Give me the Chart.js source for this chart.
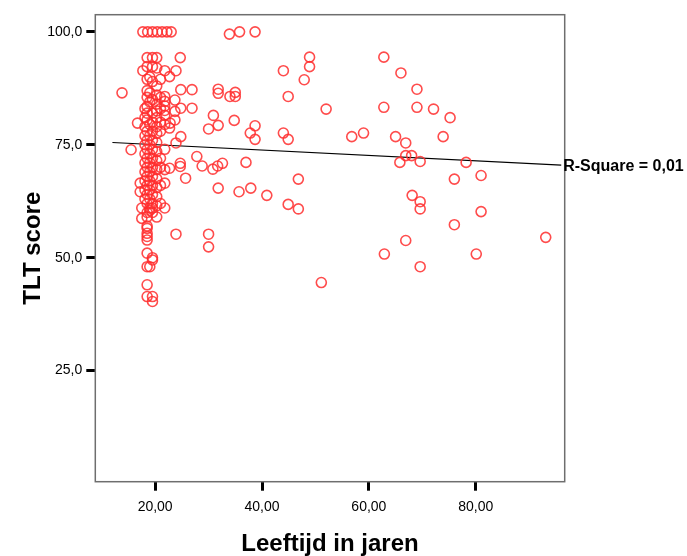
<!DOCTYPE html>
<html>
<head>
<meta charset="utf-8">
<script src="https://cdn.jsdelivr.net/npm/chart.js@4.4.1/dist/chart.umd.min.js"></script>
<style>
  body { margin: 0; background: #fff; }
</style>
</head>
<body>
<canvas id="chart" width="687" height="556"></canvas>
<script>
// leeftijd (jaren) en TLT score per respondent
const ages = [
  17.7, 18.6, 19.5, 20.4, 21.3, 22.2, 23.0, 33.9, 35.8, 38.7,
  13.8, 15.5, 16.7, 17.2, 17.2, 17.5, 17.5, 17.7,
  18.1, 18.1, 18.1, 18.1, 18.1, 18.1, 18.1, 18.1, 18.1, 18.1, 18.1,
  18.5, 18.5, 18.5, 18.5, 18.5, 18.5, 18.5, 18.5, 18.5, 18.5, 18.5, 18.5, 18.5, 18.5,
  18.5, 18.5, 18.5, 18.5, 18.5, 18.5, 18.5, 18.5, 18.5, 18.5, 18.5, 18.5, 18.5, 18.5,
  19.0, 19.0, 19.0, 19.0, 19.0, 19.0, 19.0, 19.0, 19.0, 19.0, 19.0, 19.0, 19.0, 19.0, 19.0,
  19.5, 19.5, 19.5, 19.5, 19.5, 19.5, 19.5, 19.5, 19.5, 19.5, 19.5, 19.5, 19.5, 19.5,
  19.5, 19.5, 19.5, 19.5, 19.5, 19.5, 19.5,
  20.3, 20.3, 20.3, 20.3, 20.3, 20.3, 20.3, 20.3, 20.3, 20.3, 20.3, 20.3, 20.3, 20.3,
  20.3, 20.3, 20.3, 20.3,
  21.0, 21.0, 21.0, 21.0, 21.0, 21.0, 21.0, 21.0, 21.0,
  21.8, 21.8, 21.8, 21.8, 21.8, 21.8, 21.8, 21.8, 21.8, 21.8, 21.8,
  22.7, 22.7, 22.7, 22.8, 23.7, 23.7, 23.7, 23.9, 23.9, 23.9, 24.7, 24.8, 24.8, 24.8,
  24.7, 24.7, 25.7, 26.9, 26.9, 27.8, 28.8, 30.0, 30.0, 30.0, 30.8, 30.9, 31.7, 31.8,
  31.8, 31.8, 31.8, 32.6, 34.0, 34.8, 35.0, 35.0, 35.7, 37.0, 37.8, 37.9, 38.7, 38.7, 40.9,
  44.0, 44.9, 44.0, 44.9, 44.9, 46.8, 46.8, 47.9, 48.9, 48.9, 51.1, 52.0, 56.8, 59.0,
  62.8, 62.8, 62.9, 65.0, 65.8, 66.0, 66.9, 66.9, 66.9, 68.0, 68.1, 69.0, 69.0, 69.6,
  69.6, 69.6, 69.6, 72.1, 73.9, 75.2, 76.0, 76.0, 78.2, 80.1, 81.0, 81.0, 93.1
];
const scores = [
  100, 100, 100, 100, 100, 100, 100, 99.5, 100, 100,
  86.5, 73.9, 79.8, 66.5, 64.6, 61.0, 58.7, 91.4,
  63, 65, 67, 69, 71, 73, 75, 77, 79, 81, 83,
  94.3, 92.3, 89.5, 87, 85.5, 83.5, 82, 80.5, 78, 76, 74, 72, 70, 68,
  66, 64, 62, 60, 59, 57, 56.5, 55.4, 54.7, 53.9, 51, 48, 44, 41.4,
  90, 86.5, 84.5, 79.5, 77, 75, 73, 71, 69, 67, 65, 63, 61, 60.5, 48,
  94.3, 92.3, 89, 85, 82, 80, 78, 76, 74, 72, 70, 68, 66, 64,
  62, 61, 60, 50, 49.5, 41.4, 40.3,
  94.3, 92, 88, 86, 84, 82.5, 81, 79, 77.5, 75.5, 73.5, 71.5, 69.5, 67.5,
  65.5, 63.5, 61.5, 59,
  89.5, 85.5, 83, 80, 78, 72, 70, 66, 62,
  91.4, 85.7, 84.6, 83.6, 82.6, 81.5, 79.5, 74, 69.5, 66.5, 61,
  90.1, 78.7, 69.8, 79.8, 84.9, 82.4, 80.5, 91.4, 75.4, 55.2, 94.3, 87.2, 83.1, 76.8,
  70.9, 70.2, 67.6, 87.2, 83.1, 72.4, 70.3, 78.5, 55.2, 52.4, 69.6, 81.5, 70.3, 87.3,
  86.4, 79.3, 65.4, 70.9, 85.7, 80.4, 86.6, 85.7, 64.6, 71.1, 77.6, 65.4, 79.2, 76.2, 63.8,
  91.4, 85.7, 77.6, 76.2, 61.8, 67.4, 60.8, 89.4, 94.4, 92.3, 44.5, 82.9, 76.8, 77.6,
  94.4, 83.3, 50.8, 76.8, 71.1, 90.9, 75.4, 72.6, 53.8, 72.6, 63.8, 87.3, 83.3, 71.3,
  62.4, 60.8, 48.0, 82.9, 76.8, 81.0, 67.4, 57.3, 71.1, 50.8, 68.2, 60.2, 54.5
];

// lineaire fit
const fitAges = [12, 96];
const fitScores = [75.5, 70.5];
const rSquareLabel = 'R-Square = 0,01';

const xTicks = [20, 40, 60, 80];
const yTicks = [25, 50, 75, 100];

const font = '"Liberation Sans", Arial, sans-serif';

const framePlugin = {
  id: 'frame',
  beforeDatasetsDraw(chart) {
    const { ctx, chartArea: a } = chart;
    ctx.save();
    ctx.strokeStyle = '#6e6e6e';
    ctx.lineWidth = 1.5;
    ctx.strokeRect(a.left, a.top, a.right - a.left, a.bottom - a.top);
    ctx.restore();
  },
  afterDatasetsDraw(chart) {
    const { ctx } = chart;
    const meta = chart.getDatasetMeta(1);
    const last = meta.data[meta.data.length - 1];
    ctx.save();
    ctx.font = 'bold 16px ' + font;
    ctx.fillStyle = '#000';
    ctx.textBaseline = 'middle';
    ctx.fillText(rSquareLabel, last.x + 2, last.y + 1);
    ctx.restore();
  }
};

new Chart(document.getElementById('chart').getContext('2d'), {
  type: 'scatter',
  data: {
    datasets: [{
      data: ages.map((a, i) => ({ x: a, y: scores[i] })),
      pointStyle: 'circle',
      pointRadius: 5,
      borderWidth: 1.6,
      borderColor: 'rgba(255, 45, 45, 0.85)',
      backgroundColor: 'rgba(0,0,0,0)'
    }, {
      type: 'line',
      data: fitAges.map((a, i) => ({ x: a, y: fitScores[i] })),
      borderColor: '#000',
      borderWidth: 1.2,
      pointRadius: 0,
      fill: false
    }]
  },
  options: {
    responsive: false,
    animation: false,
    layout: { padding: { top: 14.7, right: 122.3, bottom: 0, left: 0 } },
    plugins: { legend: { display: false }, tooltip: { enabled: false } },
    scales: {
      x: {
        type: 'linear',
        min: 8.8,
        max: 96.65,
        afterBuildTicks: s => { s.ticks = xTicks.map(v => ({ value: v })); },
        afterFit: s => { s.height = 74.3; },
        border: { display: false },
        grid: { drawOnChartArea: false, drawTicks: true, tickLength: 9, tickWidth: 3, tickColor: '#000' },
        ticks: {
          color: '#000',
          padding: 8,
          maxRotation: 0,
          font: { family: font, size: 14 },
          callback: v => v.toFixed(2).replace('.', ',')
        },
        title: {
          display: true,
          text: 'Leeftijd in jaren',
          color: '#000',
          padding: { top: 0, bottom: 0 },
          font: { family: font, size: 24, weight: 'bold', lineHeight: 1 }
        }
      },
      y: {
        min: 0.4,
        max: 103.8,
        afterBuildTicks: s => { s.ticks = yTicks.map(v => ({ value: v })); },
        afterFit: s => { s.width = 95.3; },
        border: { display: false },
        grid: { drawOnChartArea: false, drawTicks: true, tickLength: 9, tickWidth: 3, tickColor: '#000' },
        ticks: {
          color: '#000',
          padding: 4,
          font: { family: font, size: 14 },
          callback: v => v.toFixed(1).replace('.', ',')
        },
        title: {
          display: true,
          text: 'TLT score',
          color: '#000',
          padding: { top: 21, bottom: 0 },
          font: { family: font, size: 24, weight: 'bold', lineHeight: 1 }
        }
      }
    }
  },
  plugins: [framePlugin]
});
</script>
</body>
</html>
